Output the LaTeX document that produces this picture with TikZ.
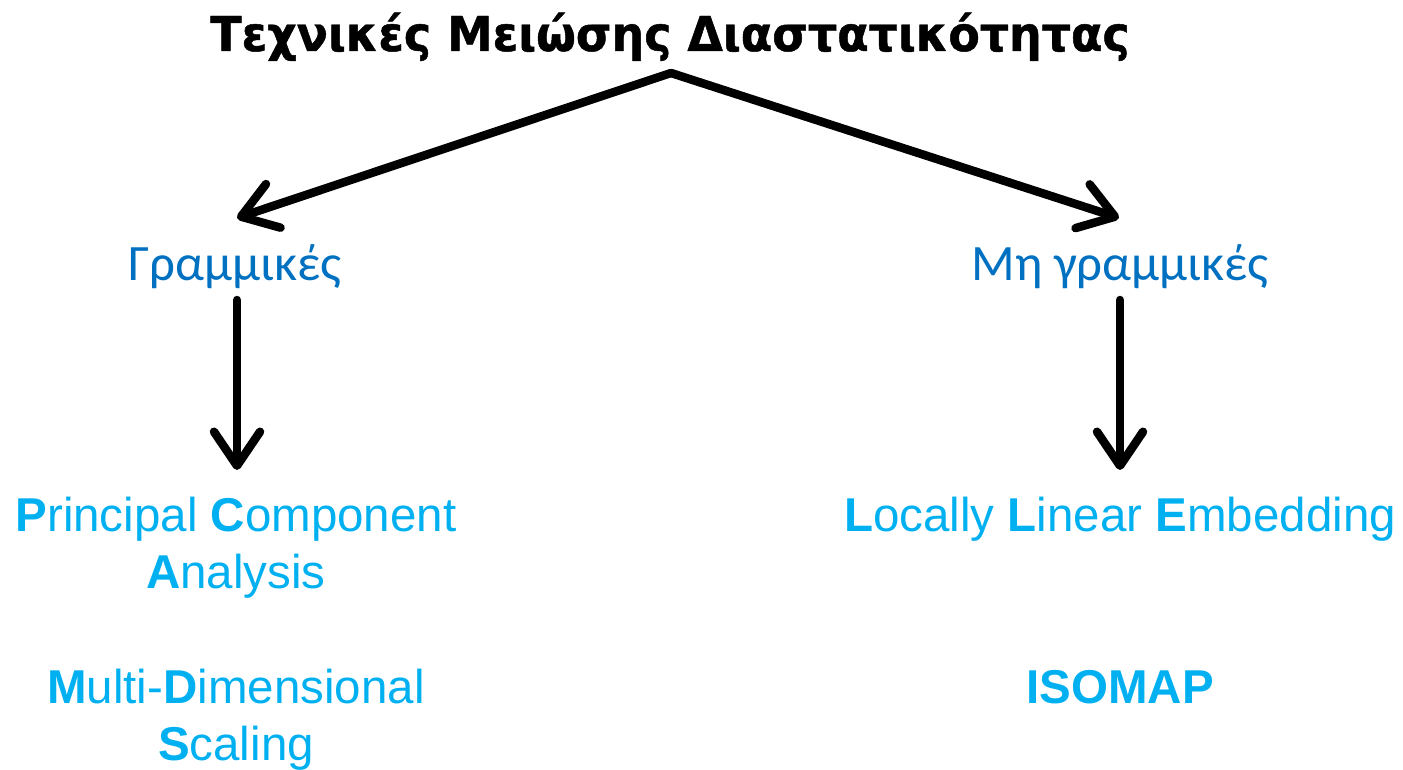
\documentclass[tikz,border=0pt]{standalone}
\usepackage{fontspec}
\usetikzlibrary{arrows.meta}
\newfontfamily\titlefont[FakeStretch=0.955,FakeBold=1]{DejaVu Sans}
\newfontfamily\midfont{Carlito}
\newfontfamily\arialfont{Liberation Sans}
\definecolor{midblue}{HTML}{0070C0}
\definecolor{lightblue}{HTML}{00B0F0}
\tikzset{
  titletext/.style={inner sep=0pt, anchor=base, font=\titlefont\bfseries\fontsize{48}{58}\selectfont, text=black},
  midtext/.style={inner sep=0pt, anchor=base, font=\midfont\fontsize{51}{61}\selectfont, text=midblue},
  lowtext/.style={inner sep=0pt, anchor=base, font=\arialfont\fontsize{47.5}{57}\selectfont, text=lightblue},
  bigarrow/.style={line width=8.5pt, line cap=round, -{Straight Barb[length=34pt 0 0, width=46pt 0 0, line cap=round, line join=round]}}
}
\begin{document}
\begin{tikzpicture}[x=1pt, y=-1pt]
\useasboundingbox (0,0) rectangle (1403,770);
\node[titletext] (title) at (670,51) {Τεχνικές Μειώσης Διαστατικότητας};
\coordinate (apex) at (671,73);
\node[midtext] (lin) at (235,280) {Γραμμικές};
\node[midtext] (nonlin) at (1120,280) {Μη γραμμικές};
\coordinate (linend) at (237,218);
\coordinate (nonlinend) at (1119,218);
\coordinate (lintop) at (237,300);
\coordinate (linbot) at (237,470);
\coordinate (nontop) at (1120,300);
\coordinate (nonbot) at (1120,470);
\node[lowtext] (pca1) at (236,531) {\textbf{P}rincipal \textbf{C}omponent};
\node[lowtext] (pca2) at (236,588) {\textbf{A}nalysis};
\node[lowtext] (mds1) at (236,703) {\textbf{M}ulti-\textbf{D}imensional};
\node[lowtext] (mds2) at (236,760) {\textbf{S}caling};
\node[lowtext] (lle) at (1120,531) {\textbf{L}ocally \textbf{L}inear \textbf{E}mbedding};
\node[lowtext] (iso) at (1120,703) {\textbf{ISOMAP}};
\draw[bigarrow] (apex) -- (linend);
\draw[bigarrow] (apex) -- (nonlinend);
\draw[bigarrow] (lintop) -- (linbot);
\draw[bigarrow] (nontop) -- (nonbot);
\end{tikzpicture}
\end{document}
